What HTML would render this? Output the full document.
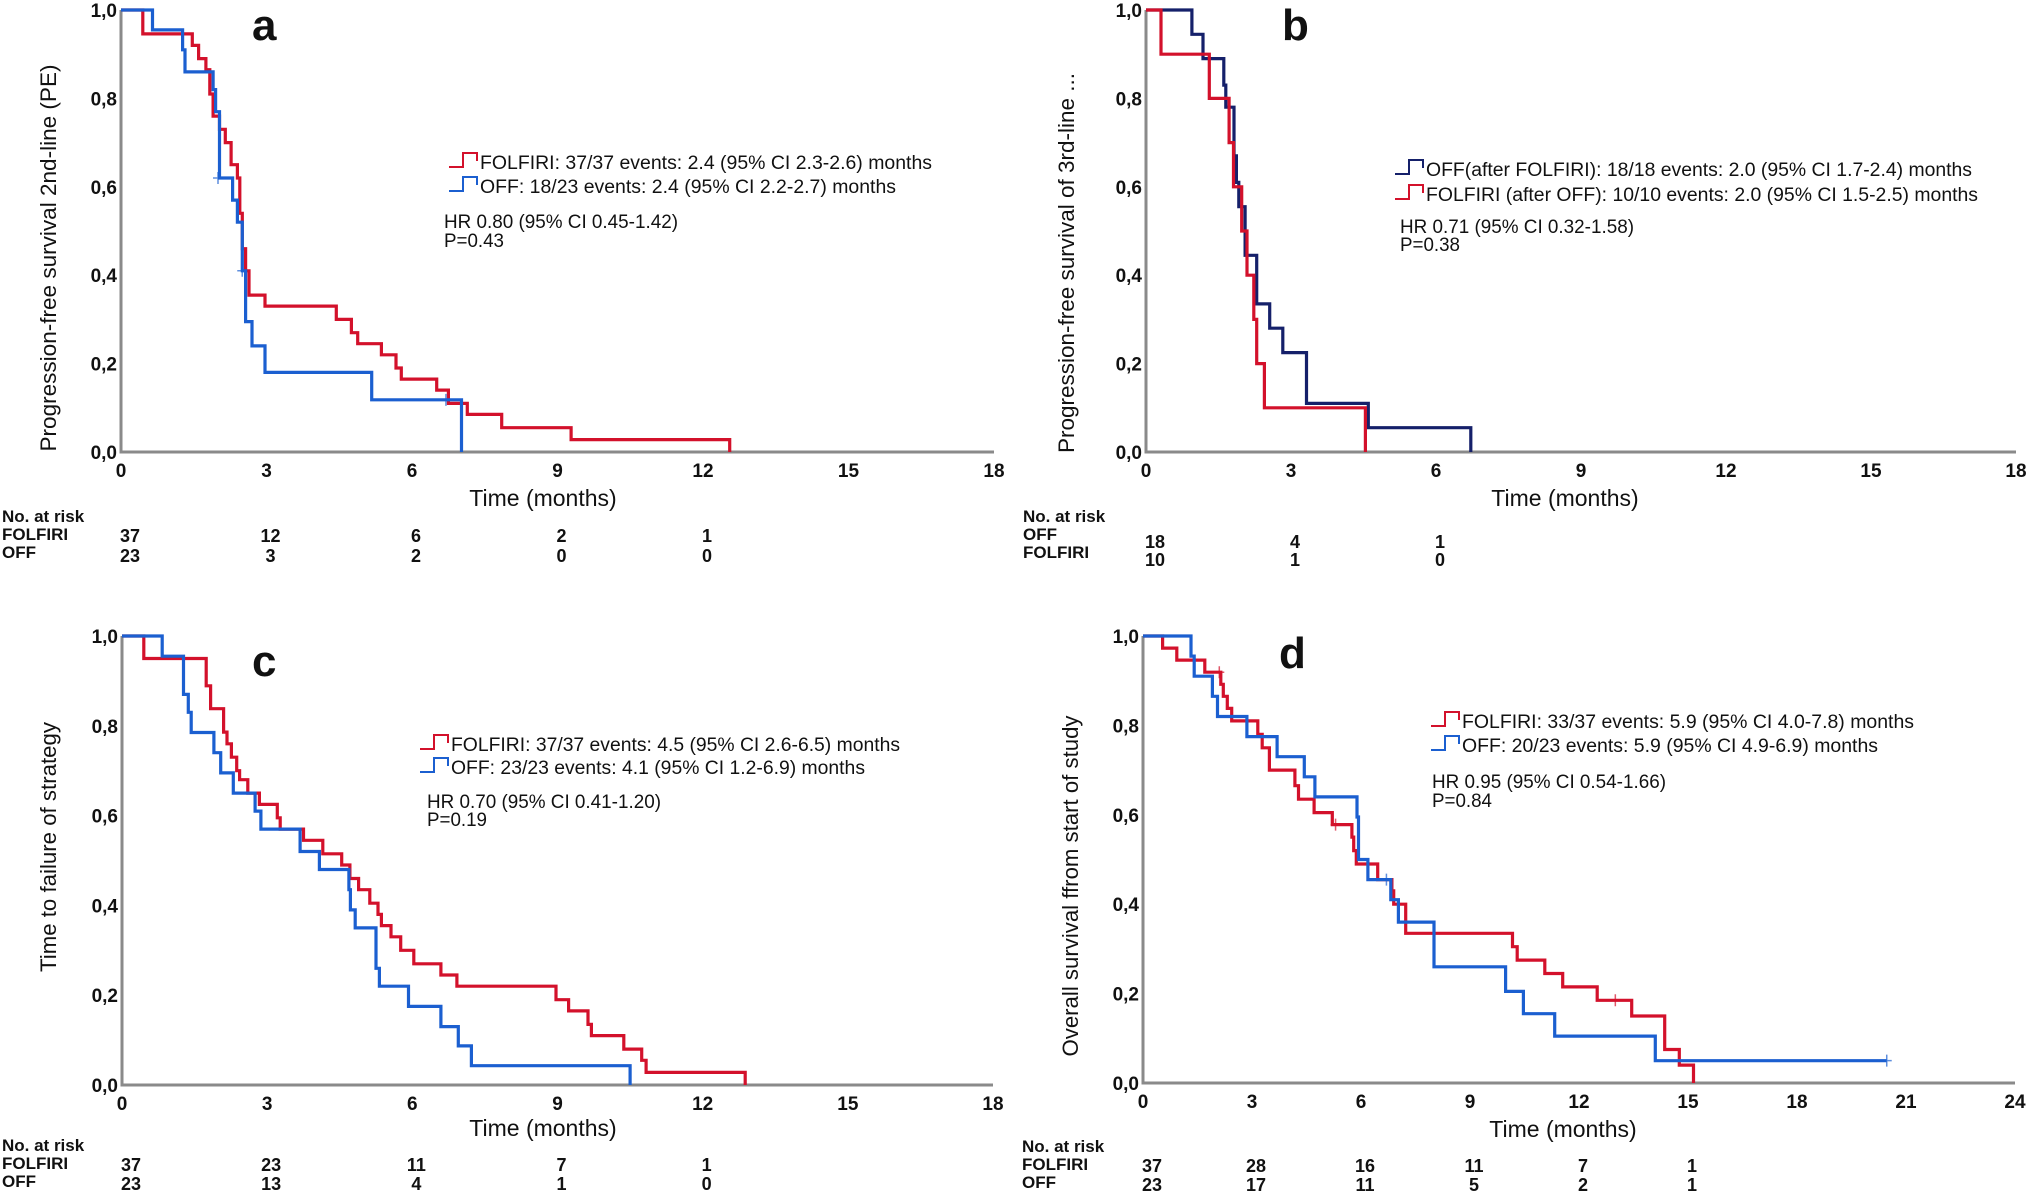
<!DOCTYPE html>
<html><head><meta charset="utf-8"><style>
html,body{margin:0;padding:0;background:#fff;}
svg{display:block;font-family:"Liberation Sans",Arial,sans-serif;}
</style></head><body>
<svg id="fig" width="2030" height="1196" viewBox="0 0 2030 1196"></svg>
<script>
// ---- Panel a data ----
const aRedT=[0.45,1.47,1.6,1.75,1.83,1.9,2.03,2.15,2.27,2.4,2.45,2.5,2.57,2.64,2.97,4.44,4.75,4.88,5.37,5.67,5.78,6.51,6.75,7.14,7.85,9.28,12.55];
const aRedS=[0.946,0.92,0.89,0.865,0.81,0.76,0.73,0.70,0.65,0.62,0.54,0.46,0.41,0.355,0.33,0.30,0.27,0.245,0.22,0.19,0.165,0.14,0.11,0.085,0.055,0.028,0];
const aBlueT=[0.65,1.27,1.32,1.9,1.95,2.03,2.3,2.4,2.5,2.57,2.7,2.97,5.17,7.02];
const aBlueS=[0.955,0.91,0.86,0.82,0.77,0.62,0.57,0.52,0.41,0.295,0.24,0.18,0.118,0];
// ---- Panel b data ----
const bNavyT=[0.95,1.18,1.61,1.65,1.82,1.87,1.92,2.05,2.29,2.56,2.83,3.32,4.6,6.72];
const bNavyS=[0.945,0.89,0.83,0.78,0.67,0.61,0.555,0.445,0.335,0.28,0.225,0.11,0.055,0];
const bRedT=[0.31,1.31,1.72,1.81,1.98,2.09,2.23,2.29,2.45,4.54];
const bRedS=[0.90,0.80,0.70,0.60,0.50,0.40,0.30,0.20,0.10,0];
// ---- Panel c data ----
const cRedT=[0.45,1.74,1.83,2.1,2.17,2.26,2.37,2.43,2.6,2.84,3.21,3.27,3.75,4.15,4.54,4.71,4.89,5.12,5.29,5.36,5.56,5.76,6.03,6.59,6.92,8.97,9.23,9.63,9.7,10.37,10.74,10.83,12.88];
const cRedS=[0.95,0.889,0.838,0.786,0.76,0.73,0.70,0.68,0.65,0.625,0.595,0.57,0.545,0.515,0.49,0.46,0.435,0.405,0.38,0.355,0.33,0.30,0.27,0.245,0.22,0.19,0.165,0.135,0.11,0.08,0.055,0.028,0];
const cBlueT=[0.83,1.27,1.37,1.43,1.9,2.04,2.3,2.75,2.87,3.68,4.08,4.69,4.72,4.82,5.25,5.32,5.92,6.59,6.95,7.22,10.5];
const cBlueS=[0.955,0.87,0.83,0.785,0.74,0.695,0.65,0.61,0.57,0.52,0.48,0.435,0.39,0.35,0.26,0.22,0.175,0.13,0.087,0.043,0];
// ---- Panel d data ----
const dRedT=[0.54,0.93,1.7,2.14,2.21,2.32,2.44,3.16,3.28,3.48,4.18,4.28,4.71,5.21,5.75,5.8,5.87,6.46,6.85,6.9,7.23,10.17,10.3,11.06,11.55,12.5,13.45,14.36,14.76,15.15];
const dRedS=[0.973,0.946,0.919,0.892,0.865,0.838,0.81,0.78,0.75,0.70,0.665,0.635,0.605,0.578,0.55,0.52,0.49,0.455,0.43,0.40,0.335,0.305,0.275,0.245,0.215,0.185,0.15,0.075,0.04,0];
const dBlueT=[1.32,1.41,1.91,2.05,2.86,3.69,4.44,4.73,5.89,5.93,6.19,6.82,7.03,8.01,9.98,10.47,11.33,14.1];
const dBlueS=[0.955,0.91,0.865,0.82,0.775,0.73,0.685,0.64,0.595,0.50,0.455,0.41,0.36,0.26,0.205,0.155,0.105,0.05];
const dBlueEnd=20.47;
// censor marks [time, survival]
const aBlueCensT=[2.0,2.5,6.7]; const aBlueCensS=[0.62,0.41,0.118];
const dRedCensT=[2.1,5.3,13.0]; const dRedCensS=[0.919,0.578,0.185];
const dBlueCensT=[6.7,20.47]; const dBlueCensS=[0.455,0.05];
// tick labels
const xTicks18=[0,3,6,9,12,15,18];
const xTicks24=[0,3,6,9,12,15,18,21,24];
const yTicks=[0,0.2,0.4,0.6,0.8,1.0];
const yTickLabels=["0,0","0,2","0,4","0,6","0,8","1,0"];
// risk tables
const aRiskF=[37,12,6,2,1]; const aRiskO=[23,3,2,0,0];
const bRiskO=[18,4,1]; const bRiskF=[10,1,0];
const cRiskF=[37,23,11,7,1]; const cRiskO=[23,13,4,1,0];
const dRiskF=[37,28,16,11,7,1]; const dRiskO=[23,17,11,5,2,1];

const RED="#d3112b", BLUE="#1b5fd0", NAVY="#15206a";
const svg=document.getElementById('fig');
const NS="http://www.w3.org/2000/svg";
function mk(tag,attrs,parent){const e=document.createElementNS(NS,tag);for(const k in attrs)e.setAttribute(k,attrs[k]);(parent||svg).appendChild(e);return e;}
function txt(s,x,y,size,opts,parent){opts=opts||{};const e=mk('text',{x:x,y:y,'font-size':size,fill:'#111','font-weight':opts.w||'normal','text-anchor':opts.a||'start'},parent);if(opts.len){e.setAttribute('textLength',opts.len);e.setAttribute('lengthAdjust','spacingAndGlyphs');}e.textContent=s;return e;}

function panel(P){
  const g=mk('g',{});
  
  
  const xs=t=>P.x0+(P.x1-P.x0)*t/P.xmax;
  const ys=s=>P.y0+(P.y1-P.y0)*s;
  const ax=mk('path',{d:`M${P.x0} ${P.y1} V${P.y0} H${P.x1}`,stroke:'#8a8a8a','stroke-width':3,fill:'none'},g);
  
  
  yTicks.forEach((v,i)=>{const t=txt(yTickLabels[i],P.x0-4,ys(v)+7,19,{a:'end',w:'bold'},g);
    
    });
  P.xt.forEach(v=>{const t=txt(String(v),xs(v),P.y0+25,19,{a:'middle',w:'bold'},g);
    
    });
  const xt=txt('Time (months)',P.timeX,P.timeY,23,{a:'middle'},g);
  
  
  const yt=txt(P.ytitle,0,0,22,{a:'middle',len:P.ylen},g);
  yt.setAttribute('transform',`translate(${P.ytx},${P.yty}) rotate(-90)`);
  
  
  const lt=txt(P.letter,P.lx,P.ly,44,{w:'bold'},g);
  
  
  P.series.forEach(S=>{
    let d=`M${xs(0)} ${ys(1)}`;
    S.t.forEach((t,i)=>{d+=` H${xs(t).toFixed(1)} V${ys(S.s[i]).toFixed(1)}`;});
    if(S.end) d+=` H${xs(S.end).toFixed(1)}`;
    const p=mk('path',{d:d,stroke:S.c,'stroke-width':3.2,fill:'none'},g);
    
    
    (S.ct||[]).forEach((t,i)=>{const c=mk('path',{d:`M${xs(t)} ${ys(S.cs[i])-6} v12 M${xs(t)-5} ${ys(S.cs[i])} h10`,stroke:S.c,'stroke-width':1.5,fill:'none',opacity:0.7},g);
      
      });
  });
  P.legend.forEach(L=>{
    const ic=mk('path',{d:`M${L.x} ${L.y+5} h14 v-14 h14 v8`,stroke:L.c,'stroke-width':2,fill:'none'},g);
    
    
    const t=txt(L.text,L.x+31,L.y+7,19,{len:L.len},g);
    
    
  });
  P.stats.forEach(S=>{const t=txt(S.text,S.x,S.y,19,{len:S.len},g);
    
    });
  const r0=txt('No. at risk',P.rx,P.ry[0],17,{w:'bold'},g);
  
  
  P.rows.forEach((R,ri)=>{
    const l=txt(R.label,P.rx,P.ry[ri+1],17,{w:'bold'},g);
    
    
    R.v.forEach((v,i)=>{const n=txt(String(v),xs(i*3)+(i==0?9:4),P.ny[ri],18,{a:'middle',w:'bold'},g);
      
      });
  });
}

panel({name:'panel-a',x0:121,x1:994,y0:452,y1:10,xmax:18,xt:xTicks18,timeX:543,timeY:506,
  ytitle:'Progression-free  survival 2nd-line (PE)',ytx:56,yty:258,ylen:387,letter:'a',lx:252,ly:40,
  series:[{name:'folfiri-curve',c:RED,t:aRedT,s:aRedS},{name:'off-curve',c:BLUE,t:aBlueT,s:aBlueS,ct:aBlueCensT,cs:aBlueCensS}],
  legend:[{x:449,y:162,c:RED,text:'FOLFIRI: 37/37 events: 2.4 (95% CI 2.3-2.6) months',len:452},
          {x:449,y:186,c:BLUE,text:'OFF: 18/23 events: 2.4 (95% CI 2.2-2.7) months',len:416}],
  stats:[{text:'HR 0.80 (95% CI 0.45-1.42)',x:444,y:228,len:234},{text:'P=0.43',x:444,y:247,len:60}],
  rx:2,ry:[522,540,558],ny:[542,562],rows:[{label:'FOLFIRI',v:aRiskF},{label:'OFF',v:aRiskO}]});

panel({name:'panel-b',x0:1146,x1:2016,y0:452,y1:10,xmax:18,xt:xTicks18,timeX:1565,timeY:506,
  ytitle:'Progression-free survival of 3rd-line ...',ytx:1074,yty:263,ylen:380,letter:'b',lx:1282,ly:40,
  series:[{name:'off-curve',c:NAVY,t:bNavyT,s:bNavyS},{name:'folfiri-curve',c:RED,t:bRedT,s:bRedS}],
  legend:[{x:1395,y:169,c:NAVY,text:'OFF(after FOLFIRI): 18/18 events: 2.0 (95% CI 1.7-2.4) months',len:546},
          {x:1395,y:194,c:RED,text:'FOLFIRI (after OFF): 10/10 events: 2.0 (95% CI 1.5-2.5) months',len:552}],
  stats:[{text:'HR 0.71 (95% CI 0.32-1.58)',x:1400,y:233,len:234},{text:'P=0.38',x:1400,y:251,len:60}],
  rx:1023,ry:[522,540,558],ny:[548,566],rows:[{label:'OFF',v:bRiskO},{label:'FOLFIRI',v:bRiskF}]});

panel({name:'panel-c',x0:122,x1:993,y0:1085,y1:636,xmax:18,xt:xTicks18,timeX:543,timeY:1136,
  ytitle:'Time to failure of strategy',ytx:56,yty:847,ylen:250,letter:'c',lx:252,ly:676,
  series:[{name:'folfiri-curve',c:RED,t:cRedT,s:cRedS},{name:'off-curve',c:BLUE,t:cBlueT,s:cBlueS}],
  legend:[{x:420,y:744,c:RED,text:'FOLFIRI: 37/37 events: 4.5 (95% CI 2.6-6.5) months',len:449},
          {x:420,y:767,c:BLUE,text:'OFF: 23/23 events: 4.1 (95% CI 1.2-6.9) months',len:414}],
  stats:[{text:'HR 0.70 (95% CI 0.41-1.20)',x:427,y:808,len:234},{text:'P=0.19',x:427,y:826,len:60}],
  rx:2,ry:[1151,1169,1187],ny:[1171,1190],rows:[{label:'FOLFIRI',v:cRiskF},{label:'OFF',v:cRiskO}]});

panel({name:'panel-d',x0:1143,x1:2015,y0:1083,y1:636,xmax:24,xt:xTicks24,timeX:1563,timeY:1137,
  ytitle:'Overall survival ffrom start of study',ytx:1078,yty:886,ylen:341,letter:'d',lx:1279,ly:668,
  series:[{name:'folfiri-curve',c:RED,t:dRedT,s:dRedS,ct:dRedCensT,cs:dRedCensS},{name:'off-curve',c:BLUE,t:dBlueT,s:dBlueS,end:dBlueEnd,ct:dBlueCensT,cs:dBlueCensS}],
  legend:[{x:1431,y:721,c:RED,text:'FOLFIRI: 33/37 events: 5.9 (95% CI 4.0-7.8) months',len:452},
          {x:1431,y:745,c:BLUE,text:'OFF: 20/23 events: 5.9 (95% CI 4.9-6.9) months',len:416}],
  stats:[{text:'HR 0.95 (95% CI 0.54-1.66)',x:1432,y:788,len:234},{text:'P=0.84',x:1432,y:807,len:60}],
  rx:1022,ry:[1152,1170,1188],ny:[1172,1191],rows:[{label:'FOLFIRI',v:dRiskF},{label:'OFF',v:dRiskO}]});
</script>
</body></html>
